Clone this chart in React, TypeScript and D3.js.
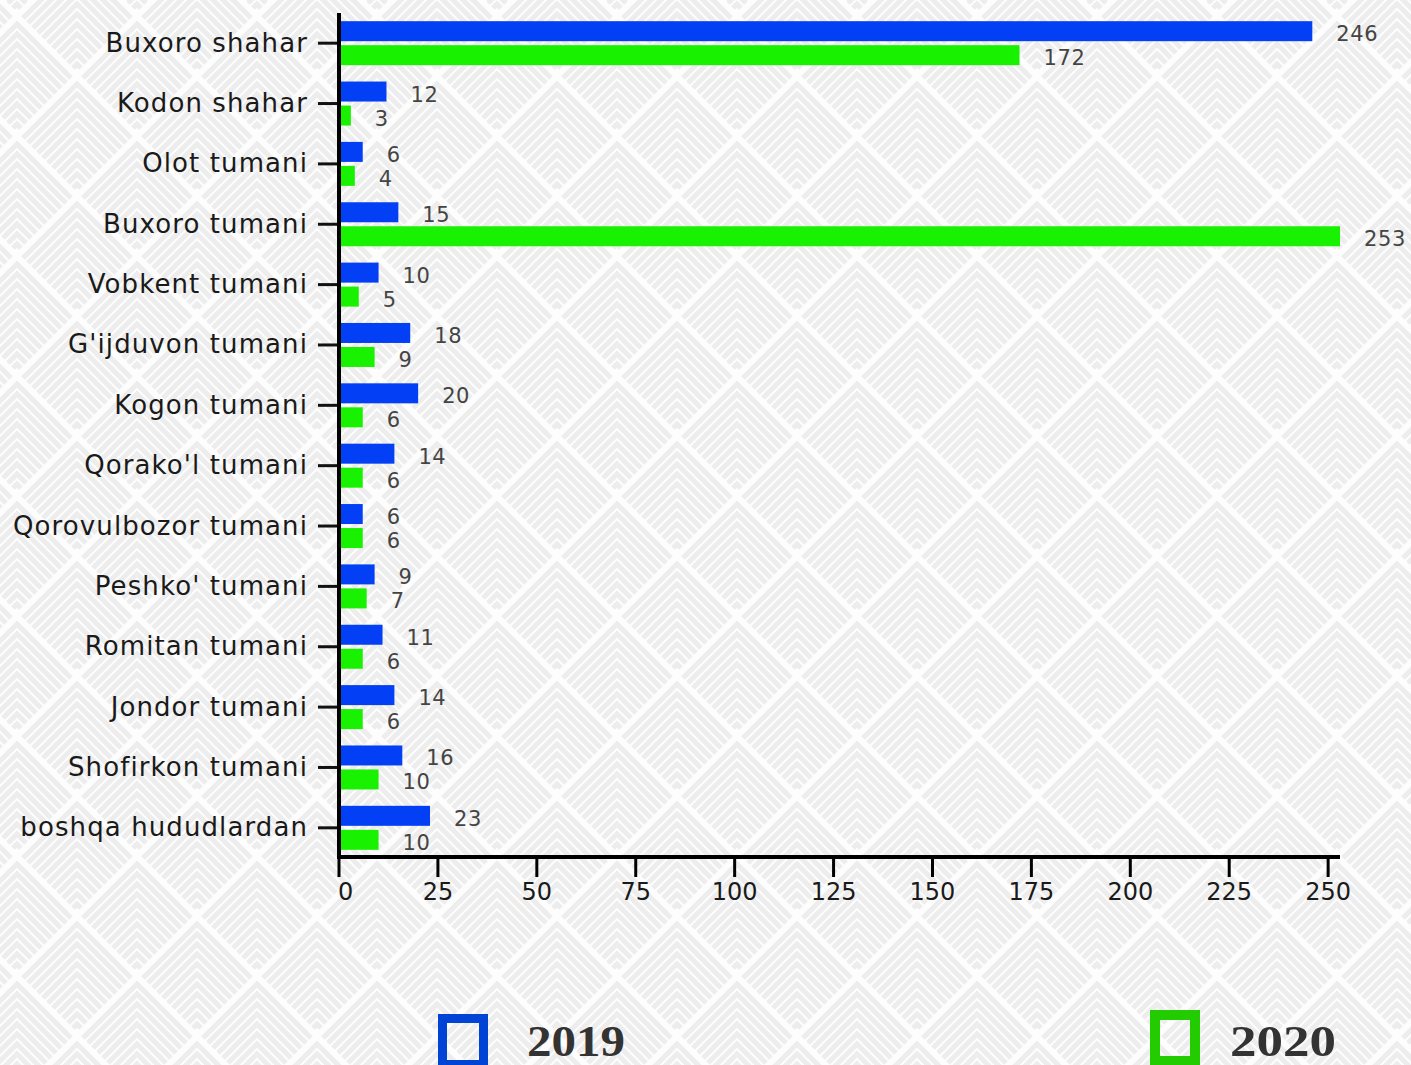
import React from "react";
import * as d3 from "d3";

const categories = [
  "Buxoro shahar",
  "Kodon shahar",
  "Olot tumani",
  "Buxoro tumani",
  "Vobkent tumani",
  "G'ijduvon tumani",
  "Kogon tumani",
  "Qorako'l tumani",
  "Qorovulbozor tumani",
  "Peshko' tumani",
  "Romitan tumani",
  "Jondor tumani",
  "Shofirkon tumani",
  "boshqa hududlardan",
];
const values2019 = [246, 12, 6, 15, 10, 18, 20, 14, 6, 9, 11, 14, 16, 23];
const values2020 = [172, 3, 4, 253, 5, 9, 6, 6, 6, 7, 6, 6, 10, 10];
const xTicks = [0, 25, 50, 75, 100, 125, 150, 175, 200, 225, 250];
const seriesNames = ["2019", "2020"];

const W = 1411;
const H = 1065;
const BLUE = "#0340f5";
const GREEN = "#18f200";

function Background() {
  const T = 120;
  const R = 60;
  const chevrons: React.ReactNode[] = [];
  const groups = [
    [R, 0],
    [0, R],
    [T, R],
    [R, T],
    [0, -R],
    [T, -R],
  ];
  groups.forEach(([cx, cy], gi) => {
    for (let k = 0; k < 12; k++) {
      const a = 6 + k * 10;
      const half = R - a / 2 - 3;
      if (half <= 0) continue;
      const ay = cy + a;
      chevrons.push(
        <polyline
          key={gi + "-" + k}
          points={`${cx - half},${ay + half} ${cx},${ay} ${cx + half},${ay + half}`}
          fill="none"
          stroke="#ededed"
          strokeWidth={5}
        />
      );
    }
  });
  return (
    <>
      <defs>
        <pattern id="chev" width={T} height={T} patternUnits="userSpaceOnUse" x={17} y={78}>
          <rect width={T} height={T} fill="#fdfdfd" />
          {chevrons}
        </pattern>
      </defs>
      <rect x={0} y={0} width={W} height={H} fill="url(#chev)" />
    </>
  );
}

export default function App() {
  const x = d3.scaleLinear().domain([0, 253]).range([339, 1340]);
  const y = d3.scaleBand<string>().domain(categories).range([13, 858]);
  const font = "'DejaVu Sans', sans-serif";
  return (
    <svg
      width={W}
      height={H}
      style={{ position: "absolute", left: 0, top: 0 }}
      viewBox={`0 0 ${W} ${H}`}
    >
      <Background />
      {categories.map((c, i) => {
        const cy = (y(c) as number) + y.bandwidth() / 2;
        return (
          <g key={c}>
            <rect x={x(0)} y={cy - 22} width={x(values2019[i]) - x(0)} height={20} fill={BLUE} />
            <rect x={x(0)} y={cy + 2} width={x(values2020[i]) - x(0)} height={20} fill={GREEN} />
            <text
              x={x(values2019[i]) + 24}
              y={cy - 12 + 4}
              fontFamily={font}
              fontSize={21}
              letterSpacing={0.6}
              fill="#444"
              dominantBaseline="middle"
            >
              {values2019[i]}
            </text>
            <text
              x={x(values2020[i]) + 24}
              y={cy + 12 + 4}
              fontFamily={font}
              fontSize={21}
              letterSpacing={0.6}
              fill="#444"
              dominantBaseline="middle"
            >
              {values2020[i]}
            </text>
            <line x1={318} x2={339} y1={cy} y2={cy} stroke="#111" strokeWidth={3} />
            <text
              x={308}
              y={cy + 1}
              textAnchor="end"
              dominantBaseline="middle"
              fontFamily={font}
              fontSize={26}
              letterSpacing={1.1}
              fill="#1a1a1a"
            >
              {c}
            </text>
          </g>
        );
      })}
      <line x1={339} x2={339} y1={13} y2={859} stroke="#000" strokeWidth={4} />
      <line x1={337} x2={1340} y1={857} y2={857} stroke="#000" strokeWidth={4} />
      {xTicks.map((t, i) => (
        <g key={t}>
          <line x1={x(t)} x2={x(t)} y1={857} y2={877} stroke="#000" strokeWidth={3} />
          <text
            x={i === 0 ? x(t) - 1 : x(t)}
            y={893}
            textAnchor={i === 0 ? "start" : "middle"}
            dominantBaseline="middle"
            fontFamily={font}
            fontSize={24}
            fill="#1a1a1a"
          >
            {t}
          </text>
        </g>
      ))}
      {/* legend */}
      <rect x={442.5} y={1018.5} width={41} height={46} fill="none" stroke="#0044d6" strokeWidth={9} />
      <text
        x={527}
        y={1056}
        fontFamily="'Liberation Serif', serif"
        fontWeight="bold"
        fontSize={44}
        textLength={98}
        lengthAdjust="spacingAndGlyphs"
        fill="#333"
      >
        {seriesNames[0]}
      </text>
      <rect x={1155} y={1015} width={40} height={46} fill="none" stroke="#22cc00" strokeWidth={10} />
      <text
        x={1230}
        y={1056}
        fontFamily="'Liberation Serif', serif"
        fontWeight="bold"
        fontSize={44}
        textLength={106}
        lengthAdjust="spacingAndGlyphs"
        fill="#333"
      >
        {seriesNames[1]}
      </text>
    </svg>
  );
}
